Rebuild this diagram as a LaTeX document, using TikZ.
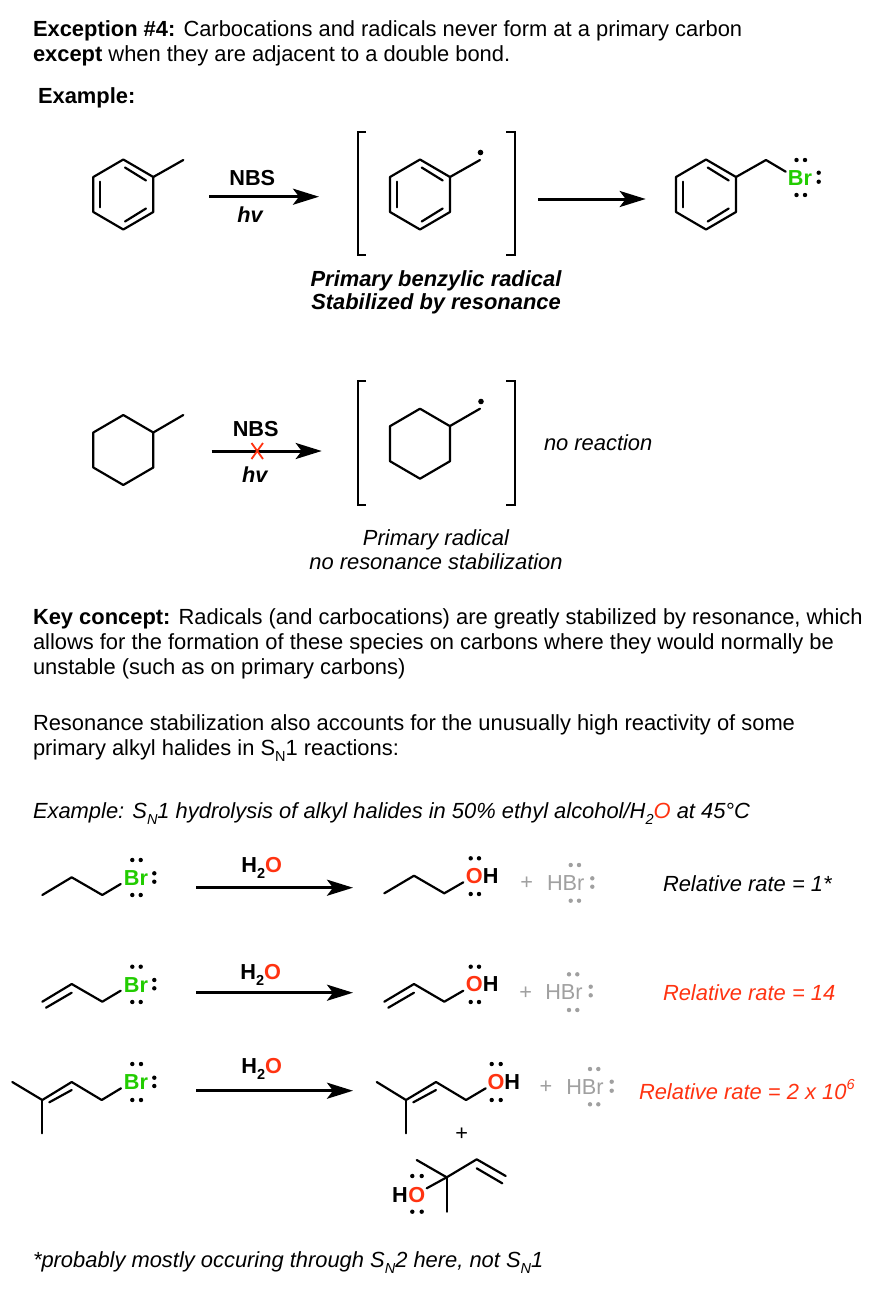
\documentclass[tikz,border=0pt]{standalone}
\usepackage{fontspec}
\setmainfont{Liberation Sans}
\usetikzlibrary{arrows.meta}
\definecolor{chemred}{HTML}{FF3311}
\definecolor{chemgreen}{HTML}{22CC00}
\definecolor{hbrgrey}{HTML}{A0A0A0}
\newcommand{\sbs}[1]{\raisebox{-0.28em}{\fontsize{14.5}{15}\selectfont #1}}
\newcommand{\sps}[1]{\raisebox{0.42em}{\fontsize{14.5}{15}\selectfont #1}}
\newcommand{\bodyfs}{\fontsize{21.9}{26}\selectfont}
\newcommand{\atomfs}{\fontsize{21.7}{26}\selectfont}
% lone pairs
\newcommand{\lpdot}[3][black]{\fill[#1] (#2,#3) circle[radius=2.2];}
\newcommand{\lppair}[4][black]{\lpdot[#1]{#2}{#4}\lpdot[#1]{#3}{#4}}
\newcommand{\lpvert}[4][black]{\lpdot[#1]{#2}{#3}\lpdot[#1]{#2}{#4}}
\newcommand{\raddot}[2]{\fill[black] (#1,#2) circle[radius=2.8];}
% rings: centre x, y
\newcommand{\ringshape}[2]{\draw[bond] (#1,#2-35) -- (#1+30,#2-17.5) -- (#1+30,#2+17.5) -- (#1,#2+35) -- (#1-30,#2+17.5) -- (#1-30,#2-17.5) -- cycle;}
\newcommand{\ringbenz}[2]{\ringshape{#1}{#2}
  \draw[bond] (#1+1.7,#2-27) -- (#1+22.7,#2-14);
  \draw[bond] (#1+22.7,#2+14) -- (#1+1.7,#2+27);
  \draw[bond] (#1-23,#2+12.8) -- (#1-23,#2-12.8);}
% arrow with named ends
\newcommand{\rxnarrow}[4]{\coordinate (#1-a) at (#2,#4); \coordinate (#1-b) at (#3,#4); \draw[rxn] (#1-a) -- (#1-b);}
\newcommand{\brackets}[4]{\draw[brk] (#1+8.5,#3) -- (#1,#3) -- (#1,#4) -- (#1+8.5,#4);
  \draw[brk] (#2-8.5,#3) -- (#2,#3) -- (#2,#4) -- (#2-8.5,#4);}
\tikzset{
  bond/.style={line width=2.2pt,line cap=round,line join=round,black},
  rxn/.style={line width=3pt,black,-{Stealth[length=26pt,width=16pt,inset=6pt]}},
  brk/.style={line width=2.2pt,black,line cap=butt,line join=miter},
  body/.style={inner sep=0pt,outer sep=0pt,anchor=base west,font=\bodyfs},
  ctr/.style={inner sep=0pt,outer sep=0pt,anchor=base,font=\bodyfs},
  atom/.style={inner sep=0pt,outer sep=0pt,anchor=center,font=\bfseries\atomfs},
  grey/.style={inner sep=0pt,outer sep=0pt,anchor=center,text=hbrgrey,font=\atomfs},
}
\begin{document}
\begin{tikzpicture}[x=1pt,y=-1pt]
\useasboundingbox (0,0) rectangle (874,1290);
\fill[white] (0,0) rectangle (874,1290);
% heading
\node[body] (t1) at (33,37) {\textbf{Exception \#4:} Carbocations and radicals never form at a primary carbon};
\node[body] (t2) at (33,62) {\textbf{except} when they are adjacent to a double bond.};
\node[body] (t3) at (38,103) {\textbf{Example:}};
% row 1
\ringbenz{123.3}{194.5}
\draw[bond] (153.3,177) -- (183.3,160);
\rxnarrow{a1}{209}{319}{196.7}
\node[atom] (nbs1) at (252.3,178.3) {NBS};
\node[atom,font=\bfseries\itshape\atomfs] (hv1) at (250,215) {hv};
\brackets{357.7}{514.7}{132}{255}
\ringbenz{420}{194.5}
\draw[bond] (450,177) -- (480,160);
\raddot{480.5}{152.5}
\rxnarrow{a2}{538}{645.7}{199}
\ringbenz{706}{194.5}
\draw[bond] (736,177) -- (766,160) -- (785.7,171.7);
\node[atom,text=chemgreen] (br1) at (800,178) {Br};
\lppair{796.5}{805}{160}\lppair{796.5}{805}{195}\lpvert{818.7}{172.7}{181.7}
\node[ctr,font=\bfseries\itshape\bodyfs] (c1) at (436,286) {Primary benzylic radical};
\node[ctr,font=\bfseries\itshape\bodyfs] (c2) at (436,309) {Stabilized by resonance};
% row 2
\ringshape{123.3}{450}
\draw[bond] (153.3,432.5) -- (183.3,415);
\rxnarrow{a3}{211.7}{321.7}{451}
\node[atom] (nbs2) at (255.7,429.3) {NBS};
\node[atom,font=\bfseries\itshape\atomfs] (hv2) at (254.7,474.7) {hv};
\draw[chemred,line width=1.8pt] (251.5,443) -- (263,459) (263,443) -- (251.5,459);
\brackets{357.7}{514.7}{381}{504.7}
\ringshape{420}{443.7}
\draw[bond] (450,426) -- (480,408.7);
\raddot{481}{401.5}
\node[body,font=\itshape\bodyfs] (nr) at (544,450) {no reaction};
\node[ctr,font=\itshape\bodyfs] (c3) at (436,545) {Primary radical};
\node[ctr,font=\itshape\bodyfs] (c4) at (436,569) {no resonance stabilization};
% key concept
\node[body] (k1) at (33,624) {\textbf{Key concept:} Radicals (and carbocations) are greatly stabilized by resonance, which};
\node[body] (k2) at (33,649) {allows for the formation of these species on carbons where they would normally be};
\node[body] (k3) at (33,674) {unstable (such as on primary carbons)};
\node[body] (r1) at (33,730) {Resonance stabilization also accounts for the unusually high reactivity of some};
\node[body] (r2) at (33,755) {primary alkyl halides in S\sbs{N}1 reactions:};
\node[body,font=\itshape\bodyfs] (e1) at (33,818) {Example: S\sbs{N}1 hydrolysis of alkyl halides in 50\% ethyl alcohol/H\sbs{2}\textcolor{chemred}{O} at 45°C};
% rxn A
\draw[bond] (42.3,895) -- (71.7,877.3) -- (102.3,895) -- (120.7,884);
\node[atom,text=chemgreen] (br2) at (136,878.3) {Br};
\lppair{132.3}{140.7}{860}\lppair{132.3}{140.7}{895}\lpvert{154.3}{873.3}{881.7}
\rxnarrow{a4}{196}{353}{887.7}
\node[atom] (w1) at (261.7,868) {H\sbs{2}\textcolor{chemred}{O}};
\draw[bond] (384.3,893.3) -- (414,875.7) -- (444.3,893.3) -- (463.3,882.3);
\node[atom,text=chemred] (o1) at (474.3,876) {O};
\node[atom] (h1) at (490.7,876) {H};
\lppair{470.7}{479}{858.3}\lppair{470.7}{479}{894}
\node[grey] (p1) at (526.7,883.3) {+};
\node[grey] (hbr1) at (565.7,883.3) {HBr};
\lppair[hbrgrey]{570.7}{579}{865}\lppair[hbrgrey]{570.7}{579}{900.7}\lpvert[hbrgrey]{592.3}{878.3}{886.7}
\node[body,font=\itshape\bodyfs] (rr1) at (663,891) {Relative rate = 1*};
% rxn B
\draw[bond] (42.3,1001.7) -- (71.7,984) -- (102.3,1001.7) -- (120.7,990.7);
\draw[bond] (46,1007.7) -- (71.7,992.7);
\node[atom,text=chemgreen] (br3) at (136,985) {Br};
\lppair{132.3}{140.7}{966.7}\lppair{132.3}{140.7}{1002}\lpvert{154.3}{980}{988.3}
\rxnarrow{a5}{196}{353}{992.7}
\node[atom] (w2) at (260.7,975) {H\sbs{2}\textcolor{chemred}{O}};
\draw[bond] (384.3,1001.7) -- (414,984) -- (444.3,1001.7) -- (463.3,990.7);
\draw[bond] (388.3,1007.7) -- (414,992.7);
\node[atom,text=chemred] (o2) at (474.3,984.3) {O};
\node[atom] (h2) at (490.7,984.3) {H};
\lppair{470.7}{479}{966.7}\lppair{470.7}{479}{1002}
\node[grey] (p2) at (525.7,993.3) {+};
\node[grey] (hbr2) at (564,992.3) {HBr};
\lppair[hbrgrey]{569}{577.3}{974.3}\lppair[hbrgrey]{569}{577.3}{1010}\lpvert[hbrgrey]{590.7}{986.7}{995.3}
\node[body,text=chemred,font=\itshape\bodyfs] (rr2) at (663,1000) {Relative rate = 14};
% rxn C
\draw[bond] (12.3,1082) -- (42.3,1100) -- (71.7,1082) -- (101.7,1100) -- (121,1088.3);
\draw[bond] (42.3,1100) -- (42.3,1133.3);
\draw[bond] (49.3,1102.3) -- (71.7,1090);
\node[atom,text=chemgreen] (br4) at (136,1082.3) {Br};
\lppair{132.3}{141}{1064}\lppair{132.3}{141}{1100}\lpvert{154.3}{1077.7}{1086}
\rxnarrow{a6}{196}{353}{1090.7}
\node[atom] (w3) at (261.7,1069.3) {H\sbs{2}\textcolor{chemred}{O}};
\draw[bond] (376.7,1082) -- (406,1100) -- (436,1082) -- (466,1100) -- (485.7,1088.3);
\draw[bond] (406,1100) -- (406,1133.3);
\draw[bond] (413.3,1102.3) -- (436,1090);
\node[atom,text=chemred] (o3) at (496,1082.3) {O};
\node[atom] (h3) at (512.3,1082.3) {H};
\lppair{491.7}{500.7}{1064}\lppair{491.7}{500.7}{1100}
\node[grey] (p3) at (546,1087.7) {+};
\node[grey] (hbr3) at (585,1087.3) {HBr};
\lppair[hbrgrey]{590}{598.3}{1069}\lppair[hbrgrey]{590}{598.3}{1104.3}\lpvert[hbrgrey]{611.7}{1081.7}{1090.7}
\node[body,text=chemred,font=\itshape\bodyfs] (rr3) at (639,1099) {Relative rate = 2 x 10\sps{6}};
\node[inner sep=0pt,font=\atomfs] (p4) at (461.7,1134) {+};
\draw[bond] (416.7,1160) -- (446.7,1177.3) -- (476.7,1159.3) -- (505.7,1176);
\draw[bond] (476.7,1168.3) -- (502.3,1183.3);
\draw[bond] (446.7,1177.3) -- (446.7,1211.7);
\draw[bond] (446.7,1177.3) -- (426.7,1188.3);
\node[atom,text=chemred] (o4) at (416.7,1195.3) {O};
\node[atom] (h4) at (400,1195.3) {H};
\lppair{412.3}{421.7}{1176}\lppair{412.3}{421.7}{1211.7}
% footnote
\node[body,font=\itshape\bodyfs] (fn) at (33,1267) {*probably mostly occuring through S\sbs{N}2 here, not S\sbs{N}1};
\end{tikzpicture}
\end{document}
